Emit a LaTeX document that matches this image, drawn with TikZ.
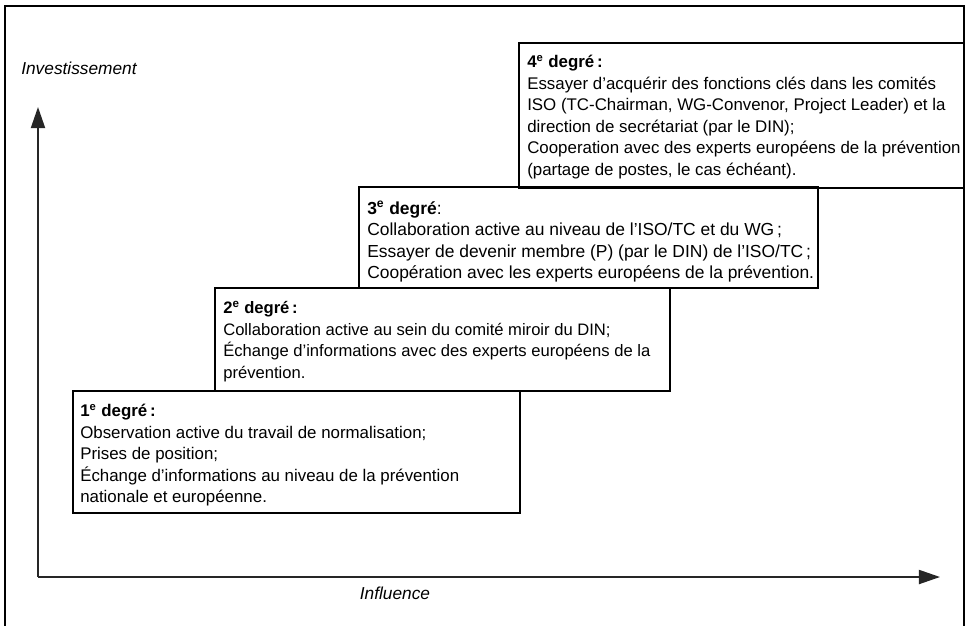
\documentclass[tikz,border=0pt]{standalone}
\usepackage{fontspec}
\setmainfont{Liberation Sans}
\usetikzlibrary{arrows.meta}
\newcommand{\degre}[1]{#1\textsuperscript{e} degré}
\tikzset{>={Triangle[length=15pt,width=10pt]},every node/.style={font=\fontsize{12}{15.3}\selectfont},
  level/.style={line width=1.4pt},stagetext/.style={anchor=north west,align=left,inner sep=0pt},
  axis/.style={line width=1.3pt,black!85,->},axislabel/.style={font=\fontsize{12.3}{15}\selectfont\itshape}}

\begin{document}
\begin{tikzpicture}[x=.025cm,y=-.025cm]
\useasboundingbox (0,0) rectangle (971,625);
\draw[level] (5,626)--(5,6)--(964,6)--(964,626);
\coordinate (o) at (38,577);\coordinate (xend) at (940,577);\coordinate (yend) at (38,107);
\draw[axis] (o)--(xend);\draw[axis] (o)--(yend);
\node[axislabel] (inv) at (79,68) {Investissement};
\node[axislabel] (infl) at (395,593) {Influence};
% les quatre degrés
\draw[level] (73,391) rectangle (520,513);
\draw[level] (215,288) rectangle (670,391);
\draw[level] (359,187) rectangle (818,288);
\draw[level] (519,43) rectangle (964,188);
\node[stagetext] (d1) at (80,404) {\textbf{\degre{1}\,:}\\Observation active du travail de normalisation;\\Prises de position;\\Échange d’informations au niveau de la prévention\\nationale et européenne.};
\node[stagetext,font=\fontsize{11.8}{15.3}\selectfont] (d2) at (223,301) {\textbf{\degre{2}\,:}\\Collaboration active au sein du comité miroir du DIN;\\Échange d’informations avec des experts européens de la\\prévention.};
\node[stagetext,font=\fontsize{12.4}{15.3}\selectfont] (d3) at (367,201) {\textbf{\degre{3}}:\\Collaboration active au niveau de l’ISO/TC et du WG\,;\\Essayer de devenir membre (P) (par le DIN) de l’ISO/TC\,;\\Coopération avec les experts européens de la prévention.};
\node[stagetext] (d4) at (527,55) {\textbf{\degre{4}\,:}\\Essayer d’acquérir des fonctions clés dans les comités\\ISO (TC-Chairman, WG-Convenor, Project Leader) et la\\direction de secrétariat (par le DIN);\\Cooperation avec des experts européens de la prévention\\(partage de postes, le cas échéant).};
\end{tikzpicture}
\end{document}
